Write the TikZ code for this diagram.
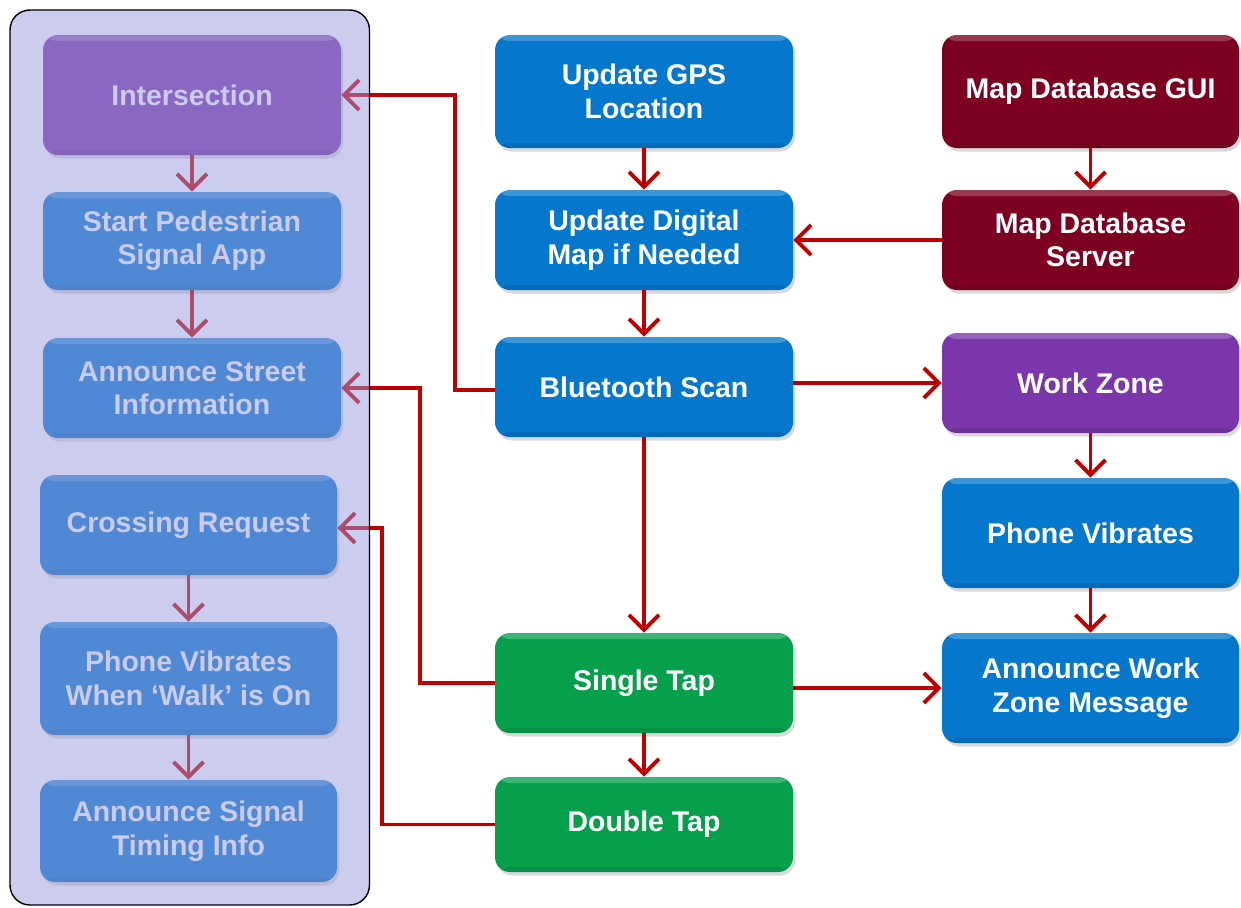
\documentclass[tikz,border=0pt]{standalone}
\usepackage{fontspec}
\setmainfont{Liberation Sans}
\usetikzlibrary{arrows.meta,shadows}
\definecolor{cblue}{RGB}{5,120,205}
\definecolor{cpurple}{RGB}{122,54,170}
\definecolor{cdred}{RGB}{126,0,32}
\definecolor{cgreen}{RGB}{6,160,76}
\definecolor{cline}{RGB}{192,0,0}
\definecolor{cpanel}{RGB}{153,153,221}
\tikzset{
  box/.style={rounded corners=0.3cm, draw=none, text=white, align=center,
    font=\fontsize{16.2}{19}\selectfont\bfseries, inner sep=0pt,
    drop shadow={opacity=0.3, shadow xshift=0.04cm, shadow yshift=-0.07cm},
    path picture={\fill[white,opacity=0.22] (path picture bounding box.north west) rectangle ([yshift=-0.12cm]path picture bounding box.north east);
                  \fill[black,opacity=0.10] (path picture bounding box.south west) rectangle ([yshift=0.1cm]path picture bounding box.south east);}},
  boxsz/.style n args={2}{minimum width=#1*0.02cm, minimum height=#2*0.02cm},
  conn/.style={draw=cline, line width=2.2pt, -{Straight Barb[length=0.3cm,width=0.6cm,line width=2.2pt]}},
}
\begin{document}
\begin{tikzpicture}[x=0.02cm,y=-0.02cm]
\useasboundingbox (0,0) rectangle (1241,907);
% left column (faded by the panel overlay)
\node[box, boxsz={298}{120}, fill=cpurple] (inter) at (192,95) {Intersection};
\node[box, boxsz={298}{98}, fill=cblue] (start) at (192,241) {Start Pedestrian\\Signal App};
\node[box, boxsz={298}{100}, fill=cblue] (ann) at (192,388) {Announce Street\\Information};
\node[box, boxsz={297}{100}, fill=cblue] (cross) at (188.5,525) {Crossing Request};
\node[box, boxsz={297}{113}, fill=cblue] (vib1) at (188.5,678.5) {Phone Vibrates\\When ‘Walk’ is On};
\node[box, boxsz={297}{102}, fill=cblue] (sig) at (188.5,831) {Announce Signal\\Timing Info};
% middle column
\node[box, boxsz={298}{113}, fill=cblue] (gps) at (644,91.5) {Update GPS\\Location};
\node[box, boxsz={298}{100}, fill=cblue] (dmap) at (644,240) {Update Digital\\Map if Needed};
\node[box, boxsz={298}{100}, fill=cblue] (bt) at (644,387) {Bluetooth Scan};
\node[box, boxsz={298}{100}, fill=cgreen] (st) at (644,683) {Single Tap};
\node[box, boxsz={298}{95}, fill=cgreen] (dt) at (644,824.5) {Double Tap};
% right column
\node[box, boxsz={297}{113}, fill=cdred] (gui) at (1090.5,91.5) {Map Database GUI};
\node[box, boxsz={297}{100}, fill=cdred] (srv) at (1090.5,240) {Map Database\\Server};
\node[box, boxsz={297}{100}, fill=cpurple] (wz) at (1090.5,383) {Work Zone};
\node[box, boxsz={297}{110}, fill=cblue] (vib2) at (1090.5,533) {Phone Vibrates};
\node[box, boxsz={297}{110}, fill=cblue] (awz) at (1090.5,688) {Announce Work\\Zone Message};
% connectors
\draw[conn] (inter) -- (start);
\draw[conn] (start) -- (ann);
\draw[conn] (cross) -- (vib1);
\draw[conn] (vib1) -- (sig);
\draw[conn] (gps) -- (dmap);
\draw[conn] (dmap) -- (bt);
\draw[conn] (bt) -- (st);
\draw[conn] (st) -- (dt);
\draw[conn] (gui) -- (srv);
\draw[conn] (srv) -- (dmap);
\draw[conn] (wz) -- (vib2);
\draw[conn] (vib2) -- (awz);
\draw[conn] ([yshift=-0.06cm]bt.west) -- ++(-40,0) |- (inter.east);
\draw[conn] (bt.east |- wz) -- (wz.west);
\draw[conn] (st.east |- awz) -- (awz.west);
\draw[conn] (st.west) -- ++(-75,0) |- (ann.east);
\draw[conn] (dt.west) -- ++(-113,0) |- ([yshift=-0.06cm]cross.east);
% translucent panel over the left column
\fill[cpanel, opacity=0.5, rounded corners=0.4cm] (10,10) rectangle (369.5,905);
\draw[black, line width=0.8pt, rounded corners=0.4cm] (10,10) rectangle (369.5,905);
\end{tikzpicture}
\end{document}
